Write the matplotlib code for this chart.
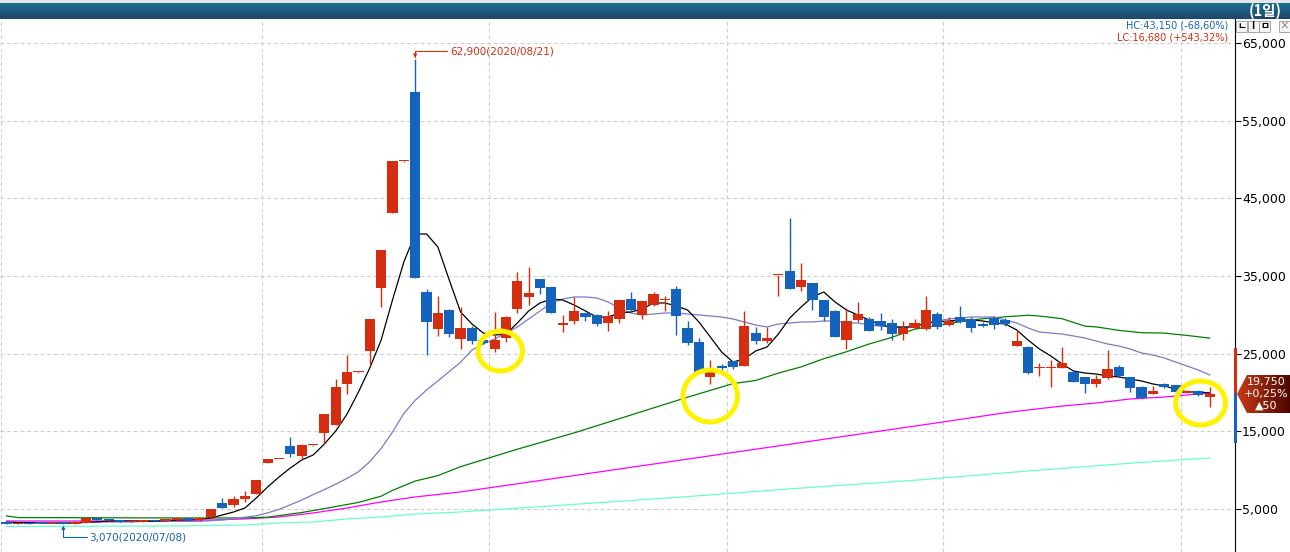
import numpy as np
import matplotlib.pyplot as plt
from matplotlib.patches import Rectangle, Polygon, Ellipse

# daily candles, 2020/07/01 .. 2020/12/03
opens = [3290, 3110, 3200, 3290, 3180, 3180, 3110, 3200, 3800, 3715,
         3545, 3300, 3370, 3600, 3460, 3545, 3800, 3545, 3930, 5810,
         5520, 6330, 6970, 10960, 11400, 13110, 11830, 13180, 14830, 15860,
         21140, 22580, 25380, 33500, 43150, 49750, 58690, 32940, 28180, 30620,
         26890, 28300, 26800, 25640, 27060, 30790, 32340, 34620, 33580, 28730,
         29210, 30240, 29980, 28950, 29500, 32040, 29980, 31230, 31880, 33330,
         28310, 26500, 22040, 23450, 24060, 23450, 27660, 26670, 35080, 35640,
         33620, 34100, 31910, 30500, 26760, 29340, 29460, 29210, 28950, 27530,
         28310, 28180, 30110, 28690, 29720, 29460, 28820, 29590, 29340, 26030,
         25860, 23170, 23170, 23160, 22640, 22000, 21100, 21870, 23290, 21990,
         20710, 19810, 21100, 20970, 20000, 20200, 19400]
highs = [3300, 3220, 3220, 3300, 3300, 3200, 3400, 3970, 3850, 3750,
         3560, 3450, 3650, 3650, 3750, 3850, 3820, 3850, 5050, 6460,
         6710, 7360, 8750, 11500, 11450, 14270, 13370, 13250, 17250, 21740,
         24830, 22660, 29500, 38400, 49850, 49850, 62900, 33330, 32430, 30700,
         31010, 28560, 27000, 30400, 29850, 35520, 36160, 34650, 33600, 29980,
         32300, 30300, 30100, 30500, 31950, 32940, 31800, 32940, 32430, 33710,
         29210, 27020, 24220, 23710, 24100, 30500, 28440, 28440, 35130, 42470,
         36680, 34130, 31950, 30620, 30880, 31650, 29720, 30240, 29460, 29210,
         29460, 32430, 30370, 29720, 31140, 29720, 29080, 29850, 29590, 28050,
         26050, 23800, 24190, 25860, 22900, 22000, 22250, 25470, 23540, 22000,
         20840, 20840, 21230, 21000, 20300, 20380, 20710]
lows = [3100, 3100, 3100, 3180, 3150, 3070, 3090, 3150, 3600, 3500,
        3280, 3280, 3350, 3420, 3450, 3500, 3500, 3520, 3900, 5100,
        5300, 5930, 6950, 10950, 11380, 11700, 11480, 13150, 13540, 15800,
        19850, 22550, 23580, 31050, 43100, 49700, 34700, 24830, 27280, 27150,
        25600, 26250, 26200, 25180, 26470, 30280, 31270, 32720, 30200, 27830,
        28860, 29250, 28600, 27920, 28990, 30360, 29460, 31100, 30500, 27440,
        26160, 22600, 21140, 22860, 23030, 23400, 26250, 26380, 32430, 33300,
        33070, 30620, 29210, 27150, 25600, 29080, 27900, 28050, 26760, 26760,
        28180, 28100, 28180, 28560, 28950, 27790, 28440, 28180, 28560, 26000,
        22380, 22130, 20710, 23100, 21300, 19940, 20710, 21800, 22000, 20070,
        19200, 19750, 20600, 19950, 19900, 19600, 18130]
closes = [3100, 3200, 3110, 3200, 3250, 3080, 3370, 3880, 3630, 3545,
          3285, 3400, 3630, 3460, 3715, 3800, 3545, 3800, 5040, 5170,
          6330, 6720, 8740, 11480, 11430, 12120, 13240, 13230, 17230, 20710,
          22640, 22640, 29470, 38350, 49810, 49810, 34780, 29080, 30240, 27530,
          28310, 26630, 26350, 26800, 29720, 34360, 32810, 33500, 30280, 28950,
          30460, 29760, 28860, 29810, 31910, 30620, 31780, 32680, 31910, 29890,
          26410, 22680, 23200, 23120, 23290, 28560, 26670, 27020, 35100, 33330,
          34490, 31910, 29720, 27190, 29210, 30110, 27920, 28560, 27530, 28310,
          28950, 30620, 28440, 29210, 29080, 28310, 28560, 28690, 28820, 26630,
          22510, 23220, 23220, 23800, 21350, 21100, 21740, 23030, 22130, 20580,
          19300, 20200, 20710, 20070, 20150, 19700, 19750]

# moving averages
ma5 = [3300, 3250, 3220, 3200, 3200, 3170, 3180, 3280, 3350, 3450,
       3480, 3450, 3430, 3450, 3500, 3580, 3620, 3680, 3840, 4230,
       4620, 5130, 6420, 7840, 9120, 10280, 11310, 11950, 13370, 15040,
       17230, 20060, 23160, 26760, 31910, 36800, 40410, 40410, 38740, 34490,
       30370, 28820, 27660, 27400, 27530, 28950, 30500, 31530, 32040, 31910,
       31270, 30500, 29720, 29720, 30240, 30370, 30750, 31530, 31530, 31140,
       30620, 29080, 27150, 25220, 23930, 24320, 25350, 25860, 27530, 29590,
       31010, 32300, 32940, 31650, 30620, 29980, 29340, 28690, 28440, 28440,
       28440, 28950, 29080, 29210, 29340, 29340, 29210, 28950, 28820, 28050,
       26760, 25600, 24700, 23670, 22770, 22510, 22380, 22130, 22000, 21740,
       21480, 21100, 20840, 20450, 20070, 20070, 19940]
ma20 = [3300, 3300, 3300, 3300, 3300, 3300, 3330, 3330, 3330, 3330,
        3330, 3330, 3420, 3420, 3420, 3420, 3420, 3420, 3500, 3590,
        3750, 3950, 4140, 4500, 4950, 5550, 6150, 6850, 7500, 8200,
        8950, 9800, 11100, 12800, 14900, 17300, 19000, 20320, 21500, 22700,
        23900, 25470, 26250, 26890, 27660, 28440, 29470, 30500, 31530, 32040,
        32300, 32300, 32170, 31650, 30880, 30240, 29980, 30110, 30240, 30240,
        30110, 29980, 29850, 29720, 29470, 29080, 28690, 28440, 28820, 28950,
        29080, 29080, 29210, 29210, 28950, 28950, 28690, 28560, 28440, 28310,
        28560, 28950, 29210, 29470, 29590, 29720, 29720, 29720, 29340, 28950,
        28310, 27790, 27660, 27530, 27280, 27020, 26630, 26250, 25990, 25600,
        25090, 24830, 24440, 23930, 23410, 22900, 22260]
ma60_x = [0, 1, 15, 21, 23, 26, 28, 31, 33, 34, 36, 38, 40, 45, 50, 55, 60, 64,
          66, 68, 70, 72, 74, 76, 78, 80, 82, 84, 86, 88, 90, 91, 93, 95, 96,
          98, 100, 102, 104, 106]
ma60 = [4100, 3900, 3850, 3850, 3950, 4550, 5050, 5850, 6650, 7400, 8600,
        9300, 10450, 12700, 14800, 17100, 19400, 21150, 21550, 22500, 23300,
        24350, 25250, 26250, 27100, 28150, 28650, 29100, 29500, 29750, 29950,
        29850, 29500, 28550, 28450, 28000, 27700, 27650, 27350, 27000]
ma120_x = [0, 15, 21, 24, 27, 30, 33, 36, 40, 46, 52, 58, 64, 70, 76, 82, 88,
           90, 93, 96, 99, 102, 104, 106]
ma120 = [3460, 3460, 3720, 3970, 4490, 5130, 5910, 6550, 7200, 8460, 9730,
         11000, 12280, 13550, 14830, 16100, 17400, 17750, 18260, 18650, 19170,
         19420, 19680, 19940]
ma240_x = [0, 15, 21, 24, 27, 30, 33, 36, 40, 50, 60, 70, 80, 90, 100, 106]
ma240 = [2750, 2820, 2940, 3200, 3330, 3720, 3970, 4360, 4620, 5600, 6600,
         7700, 8700, 9900, 11000, 11570]

month_starts = [0, 23, 43, 64, 83, 104]
y_ticks = [5000, 15000, 25000, 35000, 45000, 55000, 65000]
limit_up, limit_down, last_price = 25610, 13790, 19750
hi_label = '62,900(2020/08/21)'
lo_label = '3,070(2020/07/08)'

RED = '#d42d0f'
BLUE = '#1464be'

W, H = 1290, 552
fig = plt.figure(figsize=(W / 100, H / 100), dpi=100)
ax = fig.add_axes([0, 0, 1235 / W, (H - 19) / H])

ax.set_xlim(-0.58, 108.23)
ax.set_ylim(-534, 68090)

# grid
for t in y_ticks:
    ax.axhline(t, color='#cfcfcf', lw=0.8, dashes=(3.5, 2.5), zorder=0)
for m in month_starts:
    ax.axvline(m - 0.5, color='#cfcfcf', lw=0.8, dashes=(3.5, 2.5), zorder=0)

# moving averages
ax.plot(ma240_x, ma240, color='#66ffcc', lw=0.9, zorder=1)
ax.plot(ma120_x, ma120, color='#ff00ff', lw=0.9, zorder=1)
ax.plot(ma60_x, ma60, color='#008000', lw=0.9, zorder=1)
ax.plot(range(len(ma20)), ma20, color='#7f78c8', lw=0.9, zorder=1)
ax.plot(range(len(ma5)), ma5, color='black', lw=0.9, zorder=1)

# candles
idx = np.arange(len(closes))
o = np.array(opens)
c = np.array(closes)
up = c >= o
cols = np.where(up, RED, BLUE)
ax.vlines(idx, lows, highs, colors=cols, lw=1.0, zorder=2)
body_lo = np.minimum(o, c)
body_h = np.maximum(np.abs(c - o), 140)
ax.bar(idx, body_h, bottom=body_lo, width=0.9, color=cols, lw=0, zorder=3)

# high / low markers
hi_i = int(np.argmax(highs))
lo_i = int(np.argmin(lows))
ax.annotate(hi_label, xy=(hi_i, highs[hi_i]), xytext=(35, 8),
            textcoords='offset pixels', color=RED, fontsize=7.5,
            ha='left', va='center',
            arrowprops=dict(arrowstyle='-|>', color=RED, lw=0.8, shrinkA=0,
                            shrinkB=1, relpos=(0, 0.5), mutation_scale=5,
                            connectionstyle='angle,angleA=0,angleB=90,rad=0'))
ax.annotate(lo_label, xy=(lo_i, lows[lo_i]), xytext=(26, -13),
            textcoords='offset pixels', color=BLUE, fontsize=7.5,
            ha='left', va='center',
            arrowprops=dict(arrowstyle='-|>', color=BLUE, lw=0.8, shrinkA=0,
                            shrinkB=1, relpos=(0, 0.5), mutation_scale=5,
                            connectionstyle='angle,angleA=0,angleB=90,rad=0'))

# hand drawn yellow circles
for cx, cy, w, h in [(43.5, 25345, 3.9, 5150), (62.0, 19550, 4.8, 6700),
                     (105.2, 18650, 4.4, 5660)]:
    ax.add_patch(Ellipse((cx, cy), w, h, fill=False, ec='#fff200', lw=3.6,
                         zorder=5))

# right axis
ax.yaxis.tick_right()
ax.set_yticks(y_ticks)
ax.set_yticklabels([f'{t:,}' for t in y_ticks])
ax.tick_params(axis='y', direction='out', length=4, width=0.8, labelsize=9,
               pad=1, colors='black')
ax.set_xticks([])
for s in ['left', 'top', 'bottom']:
    ax.spines[s].set_visible(False)
ax.spines['right'].set_color('black')
ax.spines['right'].set_linewidth(0.8)

bt = ax.get_yaxis_transform()
ax.plot([1.0, 1.0], [last_price, limit_up], color=RED, lw=2.2,
        transform=bt, clip_on=False, zorder=6)
ax.plot([1.0, 1.0], [limit_down, last_price], color=BLUE, lw=2.2,
        transform=bt, clip_on=False, zorder=6)

# overlay in pixel coordinates
ov = fig.add_axes([0, 0, 1, 1], zorder=10)
ov.set_xlim(0, W)
ov.set_ylim(H, 0)
ov.axis('off')
ov.patch.set_alpha(0)

ov.add_patch(Rectangle((0, 0), W, 3, color='#e6e6e6', lw=0))
top = np.array([0x1a, 0x70, 0x92]) / 255
bot = np.array([0x1f, 0x45, 0x6a]) / 255
grad = np.linspace(0, 1, 32)[:, None, None] * (bot - top) + top
grad = np.repeat(grad, 2, axis=1)
ov.imshow(grad, extent=(0, W, 19, 3), aspect='auto', interpolation='bilinear')
ov.text(1265, 11, '(1일)', color='white', fontsize=10.5, fontweight='bold',
        ha='center', va='center', family=['Noto Sans CJK KR', 'DejaVu Sans'])

# small buttons
for bx, g, gc in [(1236, 'ㄴ', 'black'), (1247.5, 'I', 'black'),
                  (1259, 'ㅁ', 'black'), (1279, '×', '#8a8a8a')]:
    ov.add_patch(Rectangle((bx, 20.5), 11, 11, fc='#f4f4f4', ec='#9a9a9a',
                           lw=0.6))
    ov.text(bx + 5.5, 26, g, fontsize=7, color=gc, ha='center', va='center',
            fontweight='bold', family=['Noto Sans CJK KR', 'DejaVu Sans'])

ov.text(1228, 26, 'HC:43,150 (-68,60%)', color=BLUE, fontsize=7,
        ha='right', va='center')
ov.text(1228, 38, 'LC:16,680 (+543,32%)', color=RED, fontsize=7,
        ha='right', va='center')

# current price tag
tag = Polygon([(1237, 394), (1247, 375), (1290, 375), (1290, 413),
               (1247, 413)], closed=True, fc='none', ec='none')
ov.add_patch(tag)
left = np.array([0xc8, 0x3a, 0x14]) / 255
right = np.array([0x4e, 0x06, 0x00]) / 255
hg = np.linspace(0, 1, 64)[None, :, None] * (right - left) + left
hg = np.repeat(hg, 2, axis=0)
im = ov.imshow(hg, extent=(1237, 1290, 413, 375), aspect='auto',
               interpolation='bilinear')
im.set_clip_path(tag)
ov.text(1266, 382, f'{last_price:,}', color='white', fontsize=8,
        ha='center', va='center')
ov.text(1266, 394, '+0,25%', color='white', fontsize=8, ha='center',
        va='center')
ov.text(1266, 406, '▲50', color='white', fontsize=8, ha='center',
        va='center')
ov.set_xlim(0, W)
ov.set_ylim(H, 0)

fig.savefig('out.png', dpi=100)
